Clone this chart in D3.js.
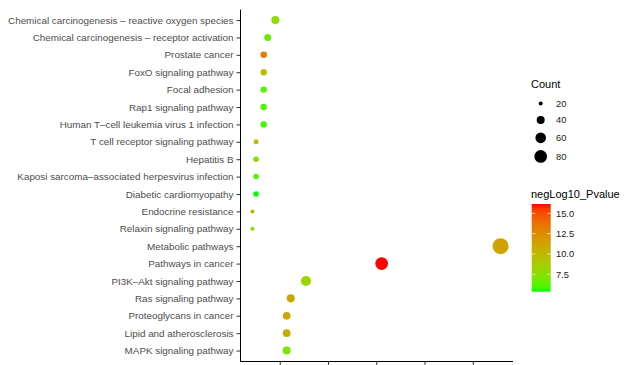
<!DOCTYPE html>
<html>
<head>
<meta charset="utf-8">
<script src="https://cdn.jsdelivr.net/npm/d3@7"></script>
<style>
  html, body { margin: 0; padding: 0; background: #fff; }
  svg { display: block; font-family: "Liberation Sans", Arial, Helvetica, sans-serif; }
</style>
</head>
<body>
<svg id="chart" width="630" height="365"></svg>
<script>
// ---- data (top to bottom as drawn) ----
const categories = [
  "Chemical carcinogenesis \u2013 reactive oxygen species",
  "Chemical carcinogenesis \u2013 receptor activation",
  "Prostate cancer",
  "FoxO signaling pathway",
  "Focal adhesion",
  "Rap1 signaling pathway",
  "Human T\u2013cell leukemia virus 1 infection",
  "T cell receptor signaling pathway",
  "Hepatitis B",
  "Kaposi sarcoma\u2013associated herpesvirus infection",
  "Diabetic cardiomyopathy",
  "Endocrine resistance",
  "Relaxin signaling pathway",
  "Metabolic pathways",
  "Pathways in cancer",
  "PI3K\u2013Akt signaling pathway",
  "Ras signaling pathway",
  "Proteoglycans in cancer",
  "Lipid and atherosclerosis",
  "MAPK signaling pathway"
];
const xValues = [0.0455, 0.0376, 0.0334, 0.0334, 0.0334, 0.0334, 0.0334, 0.0255, 0.0255, 0.0255,
                 0.0255, 0.0217, 0.0217, 0.2788, 0.1556, 0.0772, 0.0614, 0.0572, 0.0572, 0.0572];
const counts = [40, 34, 31, 30, 30, 30, 30, 24, 26, 26,
                26, 20, 20, 119, 80, 55, 40, 38, 38, 40];
const negLog10P = [7.6, 6.6, 13.2, 9.6, 6.0, 6.0, 5.8, 9.6, 7.8, 6.0,
                   5.36, 9.8, 7.8, 11.2, 16.15, 8.2, 11.0, 11.0, 10.6, 7.2];
const xTicks = [0.05, 0.10, 0.15, 0.20, 0.25];
const countBreaks = [20, 40, 60, 80];
const colorTicks = [7.5, 10.0, 12.5, 15.0];

const rows = categories.map((c, i) => ({ cat: c, x: xValues[i], n: counts[i], p: negLog10P[i] }));

const svg = d3.select("#chart");
const panel = { left: 240, right: 513, top: 9.6, bottom: 361 };

// x scale with 5% expansion (ggplot style)
const xExt = d3.extent(xValues);
const xPad = (xExt[1] - xExt[0]) * 0.05;
const x = d3.scaleLinear().domain([xExt[0] - xPad, xExt[1] + xPad]).range([panel.left, panel.right]);

// discrete y with 0.6 expansion
const step = (panel.bottom - panel.top) / (categories.length - 1 + 1.2);
const y = d3.scalePoint().domain(categories)
  .range([panel.top + 0.6 * step, panel.bottom - 0.6 * step]);

// size: diameter^2 linear in count
const d2 = d3.scaleLinear().domain([13.4, 119]).range([0, 2.42 * (119 - 13.4)]);
const radius = n => Math.sqrt(Math.max(0, d2(n))) / 2;

// colour: green -> red in Lab
const pExt = d3.extent(negLog10P);
const color = d3.scaleLinear().domain(pExt).range(["#00ff00", "#ff0000"]).interpolate(d3.interpolateLab);

// ---- axes ----
const yAxis = svg.append("g").attr("transform", `translate(${panel.left},0)`)
  .call(d3.axisLeft(y).tickSize(3.5).tickPadding(3));
yAxis.select(".domain").attr("stroke", "#000").attr("stroke-width", 1)
  .attr("d", `M0.5,${panel.top}V${panel.bottom}`);
yAxis.selectAll(".tick line").attr("stroke", "#333").attr("stroke-width", 1);
yAxis.selectAll(".tick text").attr("fill", "#4d4d4d").style("font-size", "9.85px")
  .style("font-family", '"Liberation Sans", Arial, sans-serif');

const xAxis = svg.append("g").attr("transform", `translate(0,${panel.bottom})`)
  .call(d3.axisBottom(x).tickValues(xTicks).tickSize(4).tickFormat(() => ""));
xAxis.select(".domain").attr("stroke", "#000").attr("stroke-width", 1)
  .attr("d", `M${panel.left},0.5H${panel.right}`);
xAxis.selectAll(".tick line").attr("stroke", "#333");

// ---- points ----
svg.append("g").selectAll("circle").data(rows).join("circle")
  .attr("cx", d => x(d.x))
  .attr("cy", d => y(d.cat))
  .attr("r", d => radius(d.n))
  .attr("fill", d => color(d.p));

// ---- size legend ----
const lg = svg.append("g");
lg.append("text").attr("x", 531).attr("y", 88).text("Count")
  .attr("fill", "#000").style("font-size", "11px");
let cy = 103.5;
countBreaks.forEach((b, i) => {
  const r = radius(b);
  lg.append("circle").attr("cx", 540.7).attr("cy", cy).attr("r", r).attr("fill", "#000");
  lg.append("text").attr("x", 556).attr("y", cy).attr("dy", "0.35em").text(b)
    .attr("fill", "#1a1a1a").style("font-size", "9.3px");
  if (i < countBreaks.length - 1) {
    const h1 = 14.5 + 0.35 * 2 * r, h2 = 14.5 + 0.35 * 2 * radius(countBreaks[i + 1]);
    cy += (h1 + h2) / 2;
  }
});

// ---- colour bar ----
const cb = { x: 531.7, w: 19, top: 204, bottom: 291.7 };
const defs = svg.append("defs");
const grad = defs.append("linearGradient").attr("id", "cbar")
  .attr("x1", 0).attr("y1", 1).attr("x2", 0).attr("y2", 0);
d3.range(0, 1.0001, 0.05).forEach(t => {
  grad.append("stop").attr("offset", t).attr("stop-color", color(pExt[0] + t * (pExt[1] - pExt[0])));
});
lg.append("text").attr("x", 531).attr("y", 198).text("negLog10_Pvalue")
  .attr("fill", "#000").style("font-size", "11px");
lg.append("rect").attr("x", cb.x).attr("y", cb.top).attr("width", cb.w)
  .attr("height", cb.bottom - cb.top).attr("fill", "url(#cbar)");
const cbY = d3.scaleLinear().domain(pExt).range([cb.bottom, cb.top]);
colorTicks.forEach(t => {
  const ty = cbY(t);
  lg.append("line").attr("x1", cb.x).attr("x2", cb.x + 3.8).attr("y1", ty).attr("y2", ty)
    .attr("stroke", "#fff").attr("stroke-width", 0.6);
  lg.append("line").attr("x1", cb.x + cb.w - 3.8).attr("x2", cb.x + cb.w).attr("y1", ty).attr("y2", ty)
    .attr("stroke", "#fff").attr("stroke-width", 0.6);
  lg.append("text").attr("x", 556).attr("y", ty).attr("dy", "0.35em").text(t.toFixed(1))
    .attr("fill", "#1a1a1a").style("font-size", "9.3px");
});
</script>
</body>
</html>
